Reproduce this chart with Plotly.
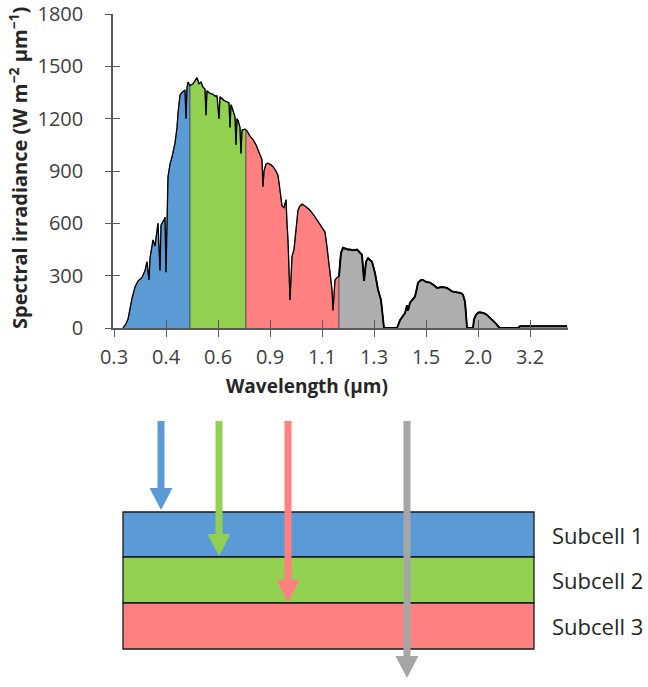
import plotly.graph_objects as go

# ---------------- data ----------------
tick_labels = ["0.3", "0.4", "0.6", "0.9", "1.1", "1.3", "1.5", "2.0", "3.2"]
tick_pos = [0, 1, 2, 3, 4, 5, 6, 7, 8]          # equally spaced wavelength ticks
y_ticks = [0, 300, 600, 900, 1200, 1500, 1800]

# spectrum: position on the (equally spaced) wavelength axis, irradiance W m-2 um-1
spec_x = [0.173, 0.231, 0.269, 0.346, 0.404, 0.462, 0.538, 0.596, 0.635, 0.673,
          0.692, 0.750, 0.788, 0.827, 0.846, 0.885, 0.904, 0.962, 0.981, 1.000,
          1.019, 1.038, 1.077, 1.115, 1.173, 1.212, 1.231, 1.269, 1.308, 1.365,
          1.385, 1.404, 1.423, 1.462,
          1.519, 1.558, 1.596, 1.635, 1.673, 1.712, 1.750, 1.769, 1.788, 1.846,
          1.904, 1.942, 1.981, 2.019, 2.038, 2.115, 2.173, 2.212, 2.231, 2.250,
          2.269, 2.308, 2.327, 2.346, 2.365, 2.385, 2.423, 2.442, 2.462, 2.519,
          2.538,
          2.558, 2.615, 2.673, 2.731, 2.769, 2.808, 2.846, 2.865, 2.885, 2.923,
          2.962, 3.019, 3.058, 3.115, 3.154, 3.192, 3.231, 3.269, 3.308, 3.327,
          3.346, 3.385, 3.404, 3.423, 3.462, 3.481, 3.519, 3.538, 3.577, 3.615,
          3.692, 3.769, 3.846, 3.904, 3.981, 4.058, 4.096, 4.135, 4.154, 4.192,
          4.212, 4.231, 4.250, 4.288, 4.327,
          4.346, 4.365, 4.404, 4.442, 4.500, 4.538, 4.596, 4.673, 4.731, 4.769,
          4.808, 4.846, 4.885, 4.962, 5.019, 5.077, 5.135, 5.173, 5.192, 5.442,
          5.500, 5.558, 5.596, 5.635, 5.654, 5.692, 5.750, 5.788, 5.827, 5.846,
          5.904, 5.942, 6.000, 6.077, 6.154, 6.212, 6.308, 6.404, 6.500, 6.615,
          6.673, 6.712, 6.750, 6.769, 6.788, 6.904, 6.923, 6.962, 7.000, 7.038,
          7.115, 7.173, 7.231, 7.288, 7.346, 7.385, 7.423, 7.769, 7.808, 8.712]
spec_y = [0, 25, 50, 170, 235, 270, 290, 330, 380, 275,
          400, 505, 470, 560, 600, 330, 590, 620, 635, 320,
          700, 865, 940, 980, 1060, 1150, 1230, 1335, 1350, 1365,
          1200, 1380, 1410, 1390,
          1400, 1420, 1435, 1400, 1410, 1380, 1370, 1220, 1360, 1345,
          1340, 1330, 1330, 1200, 1325, 1305, 1295, 1290, 1150, 1280,
          1265, 1230, 1210, 1050, 1200, 1190, 1150, 1000, 1135, 1140,
          1135,
          1130, 1100, 1080, 1050, 1020, 990, 965, 810, 900, 940,
          945, 935, 925, 900, 875, 790, 700, 690, 735, 600,
          505, 160, 350, 410, 450, 505, 620, 675, 700, 710,
          695, 675, 645, 620, 590, 550, 465, 350, 290, 220,
          100, 200, 275, 290, 295,
          380, 430, 460, 455, 450, 450, 445, 450, 430, 420,
          270, 380, 400, 380, 315, 220, 160, 40, 0, 0,
          45, 70, 85, 130, 100, 145, 170, 180, 230, 260,
          275, 275, 265, 260, 245, 230, 235, 230, 210, 205,
          200, 190, 150, 80, 0, 0, 50, 75, 88, 90,
          85, 75, 60, 45, 25, 10, 0, 0, 10, 10]

band_edges = [0.173, 1.462, 2.538, 4.327, 8.712]
band_colors = ["#5B9BD5", "#92D050", "#FF8080", "#AEAEAE"]

# schematic (bottom) — layer stack and arrows (page pixels)
layer_names = ["Subcell 1", "Subcell 2", "Subcell 3"]
layer_colors = ["#5B9BD5", "#92D050", "#FF8080"]
layer_edges = [512, 557, 603, 649]
layer_left, layer_right = 123, 534
arrow_x = [161, 219, 288, 407]
arrow_tip = [510, 556, 602, 678]
arrow_colors = ["#5B9BD5", "#92D050", "#FF8080", "#A6A6A6"]
arrow_top = 421

# ---------------- figure ----------------
W, H = 648, 687
fig = go.Figure()

for i, col in enumerate(band_colors):
    lo, hi = band_edges[i], band_edges[i + 1]
    xs = [x for x in spec_x if lo <= x <= hi]
    ys = [y for x, y in zip(spec_x, spec_y) if lo <= x <= hi]
    fig.add_trace(go.Scatter(
        x=[lo] + xs + [hi], y=[0] + ys + [0], mode="lines", fill="toself",
        fillcolor=col, line=dict(color="rgba(70,70,70,0.9)", width=0.8),
        hoverinfo="skip", showlegend=False))

fig.add_trace(go.Scatter(x=spec_x, y=spec_y, mode="lines",
                         line=dict(color="black", width=1.3),
                         showlegend=False, hoverinfo="skip"))
# thicker outline over the grey (transmitted) part
gx = [x for x in spec_x if x >= band_edges[3]]
gy = [y for x, y in zip(spec_x, spec_y) if x >= band_edges[3]]
fig.add_trace(go.Scatter(x=gx, y=gy, mode="lines",
                         line=dict(color="black", width=1.9),
                         showlegend=False, hoverinfo="skip"))

# invisible trace on the overlay (cross-tick) axes
fig.add_trace(go.Scatter(x=[0], y=[0], xaxis="x2", yaxis="y2", mode="markers",
                         marker=dict(opacity=0), showlegend=False, hoverinfo="skip"))

px0, px1 = 113, 568
py0, py1 = 14, 328
unit = 52.0
xr = [(px0 - 114) / unit, (px1 - 114) / unit]
xdom = [px0 / W, px1 / W]
ydom = [(H - py1) / H, (H - py0) / H]

font_fam = "Open Sans"
axcol = "#595959"
txtcol = "#404040"

fig.update_layout(
    width=W, height=H, margin=dict(l=0, r=0, t=0, b=0),
    paper_bgcolor="white", plot_bgcolor="white",
    font=dict(family=font_fam, color=txtcol),
    xaxis=dict(domain=xdom, range=xr, tickvals=tick_pos, ticktext=tick_labels,
               ticks="outside", ticklen=7, tickcolor=axcol, tickwidth=1.3,
               showline=True, linecolor=axcol, linewidth=1.5, showgrid=False,
               zeroline=False, tickfont=dict(size=20, color=txtcol),
               ticklabelstandoff=3,
               anchor="y", fixedrange=True, automargin=False),
    yaxis=dict(domain=ydom, range=[0, 1800], tickvals=y_ticks,
               ticks="outside", ticklen=6, tickcolor=axcol, tickwidth=1.3,
               showline=True, linecolor=axcol, linewidth=1.5, showgrid=False,
               zeroline=False, tickfont=dict(size=20, color=txtcol),
               ticklabelstandoff=18, anchor="x", fixedrange=True, automargin=False),
    xaxis2=dict(domain=xdom, range=xr, tickvals=tick_pos, overlaying="x",
                anchor="y2", ticks="inside", ticklen=8, tickcolor=axcol,
                tickwidth=1.3, showticklabels=False, showline=False,
                showgrid=False, zeroline=False, automargin=False),
    yaxis2=dict(domain=ydom, range=[0, 1800], tickvals=y_ticks, overlaying="y",
                anchor="x2", side="left", ticks="inside", ticklen=7,
                tickcolor=axcol, tickwidth=1.3, showticklabels=False,
                showline=False, showgrid=False, zeroline=False, automargin=False),
)

# axis titles
fig.add_annotation(text="<b>Wavelength (μm)</b>", xref="paper", yref="paper",
                   x=307 / W, y=(H - 386) / H, showarrow=False,
                   font=dict(size=19, color="#262626"), xanchor="center", yanchor="middle")
fig.add_annotation(text="<b>Spectral irradiance (W m<sup>−2</sup> μm<sup>−1</sup>)</b>",
                   xref="paper", yref="paper", x=18 / W, y=(H - 168) / H,
                   showarrow=False, textangle=-90,
                   font=dict(size=20, color="#262626"), xanchor="center", yanchor="middle")


def px(x):
    return x / W


def py(y):
    return (H - y) / H


# schematic layers
shapes = []
for i, col in enumerate(layer_colors):
    shapes.append(dict(type="rect", xref="paper", yref="paper",
                       x0=px(layer_left), x1=px(layer_right),
                       y0=py(layer_edges[i]), y1=py(layer_edges[i + 1]),
                       fillcolor=col, line=dict(color="#1a1a1a", width=1.3),
                       layer="above"))
    fig.add_annotation(text=layer_names[i], xref="paper", yref="paper",
                       x=px(550), y=py((layer_edges[i] + layer_edges[i + 1]) / 2),
                       xanchor="left", yanchor="middle", showarrow=False,
                       font=dict(size=22, color="#262626"))

head_len, head_half, shaft_w = 22, 11.5, 7
for ax_, tip, col in zip(arrow_x, arrow_tip, arrow_colors):
    shapes.append(dict(type="rect", xref="paper", yref="paper",
                       x0=px(ax_ - shaft_w / 2), x1=px(ax_ + shaft_w / 2),
                       y0=py(arrow_top), y1=py(tip - head_len + 1),
                       fillcolor=col, line=dict(width=0), layer="above"))
    shapes.append(dict(type="path", xref="paper", yref="paper",
                       path=(f"M {px(ax_ - head_half)} {py(tip - head_len)} "
                             f"L {px(ax_ + head_half)} {py(tip - head_len)} "
                             f"L {px(ax_)} {py(tip)} Z"),
                       fillcolor=col, line=dict(width=0), layer="above"))

fig.update_layout(shapes=shapes)
fig.write_html("out.html")
